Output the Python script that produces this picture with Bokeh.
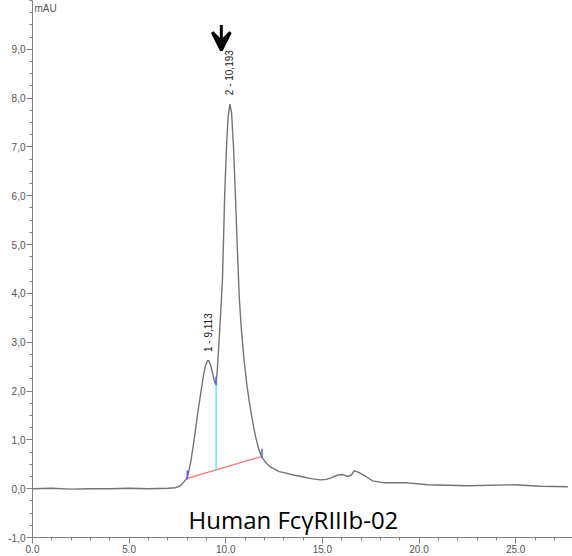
from bokeh.plotting import figure
from bokeh.models import Range1d, FixedTicker, Arrow, VeeHead
from bokeh.core.properties import value
from bokeh.embed import file_html
from bokeh.resources import INLINE

# Chromatogram trace (retention time in min, absorbance in mAU)
rt = [0.0, 1.0, 2.0, 3.0, 4.0, 5.0, 6.0, 7.0, 7.4, 7.6, 7.75, 7.9, 8.0, 8.1, 8.2, 8.3,
      8.45, 8.55, 8.7, 8.85, 8.95, 9.05, 9.12, 9.2, 9.3, 9.4, 9.48, 9.55, 9.65, 9.75,
      9.83, 9.95, 10.05, 10.12, 10.21, 10.3, 10.4, 10.5, 10.6, 10.7, 10.8, 10.95, 11.1,
      11.21, 11.4, 11.55, 11.7, 11.87, 12.1, 12.33, 12.76, 13.0, 13.5, 13.9, 14.5, 14.9,
      15.2, 15.45, 15.8, 16.05, 16.3, 16.5, 16.65, 16.9, 17.25, 17.6, 18.2, 19.4, 20.45,
      22.5, 24.9, 26.3, 27.7]
mau = [0.0, 0.01, -0.01, 0.0, 0.0, 0.01, 0.0, 0.01, 0.02, 0.05, 0.1, 0.17, 0.22, 0.38,
       0.58, 0.83, 1.25, 1.55, 1.94, 2.33, 2.52, 2.62, 2.62, 2.55, 2.4, 2.22, 2.14, 2.35,
       3.0, 3.7, 4.3, 6.1, 7.1, 7.6, 7.88, 7.7, 7.0, 6.0, 4.9, 3.9, 3.3, 2.62, 2.1, 1.8,
       1.35, 1.05, 0.82, 0.64, 0.52, 0.44, 0.35, 0.33, 0.28, 0.25, 0.2, 0.18, 0.19, 0.22,
       0.28, 0.29, 0.25, 0.28, 0.37, 0.33, 0.25, 0.16, 0.12, 0.12, 0.08, 0.06, 0.08, 0.05,
       0.04]

# Peak labels
peak_rt = [9.113, 10.193]
peak_height = [2.62, 7.88]
peak_labels = ["1 - 9,113", "2 - 10,193"]

# Integration: baseline start/end and valley drop
base_x = [8.01, 11.87]
base_y = [0.21, 0.66]
valley_x = [9.5]
valley_y = [2.14]

# Ticks
x_major = [0, 5, 10, 15, 20, 25]
x_labels = ["0.0", "5.0", "10.0", "15.0", "20.0", "25.0"]
y_major = [-1, 0, 1, 2, 3, 4, 5, 6, 7, 8, 9]
y_labels = ["-1,0", "0,0", "1,0", "2,0", "3,0", "4,0", "5,0", "6,0", "7,0", "8,0", "9,0"]
x_minor = [i * 1.0 for i in range(0, 28)]
y_minor = [-1 + i * 0.25 for i in range(0, 45)]

p = figure(width=572, height=556, output_backend="svg", toolbar_location=None,
           x_range=Range1d(0, 27.94), y_range=Range1d(-1.0, 10.0),
           min_border_left=32, min_border_right=0, min_border_top=0, min_border_bottom=19)
p.outline_line_color = None
p.xgrid.visible = False
p.ygrid.visible = False

for ax, major, minor, labels in ((p.xaxis[0], x_major, x_minor, x_labels),
                                 (p.yaxis[0], y_major, y_minor, y_labels)):
    ax.ticker = FixedTicker(ticks=major, minor_ticks=minor)
    ax.major_label_overrides = {m: l for m, l in zip(major, labels)}
    ax.axis_line_color = "#808080"
    ax.major_tick_line_color = "#808080"
    ax.minor_tick_line_color = "#808080"
    ax.major_tick_in = 0
    ax.minor_tick_in = 0
    ax.major_tick_out = 6
    ax.minor_tick_out = 3
    ax.major_label_text_font = "Liberation Sans"
    ax.major_label_text_font_size = "10px"
    ax.major_label_text_color = "#555555"
    ax.major_label_standoff = 1

# trace
p.line(rt, mau, line_color="#747474", line_width=1.4)

# baseline and drop line
p.line(base_x, base_y, line_color="#ff7070", line_width=1.2)
drop_base = base_y[0] + (valley_x[0] - base_x[0]) * (base_y[1] - base_y[0]) / (base_x[1] - base_x[0])
p.segment(x0=valley_x, y0=valley_y, x1=valley_x, y1=[drop_base], line_color="#40e4f0", line_width=1.2)

# blue integration marks
mark_x = [base_x[0], valley_x[0], base_x[1]]
mark_y = [base_y[0], valley_y[0], base_y[1]]
p.segment(x0=mark_x, y0=[v - 0.02 for v in mark_y], x1=mark_x, y1=[v + 0.16 for v in mark_y],
          line_color="#5a5aee", line_width=1.5)

# peak labels (rotated)
p.text(x=peak_rt, y=[h + 0.18 for h in peak_height], text=peak_labels, angle=1.5708,
       text_align="left", text_baseline="middle", text_font=value("Liberation Sans"),
       text_font_size="10px", text_color="#222222")

# arrow
p.add_layout(Arrow(x_start=9.77, y_start=9.5, x_end=9.77, y_end=8.98, line_width=3,
                   line_color="black", end=VeeHead(size=18, line_width=3, line_color="black")))

# unit label
p.text(x=[0.1], y=[9.83], text=["mAU"], text_align="left", text_baseline="alphabetic",
       text_font=value("Liberation Sans"), text_font_size="10px", text_color="#555555")

# sample title
p.text(x=[13.5], y=[-0.63], text=["Human FcγRIIIb-02"], text_align="center",
       text_baseline="alphabetic", text_font=value("Open Sans"), text_font_size="24px",
       text_color="black")

open("out.html", "w").write(file_html(p, INLINE))
